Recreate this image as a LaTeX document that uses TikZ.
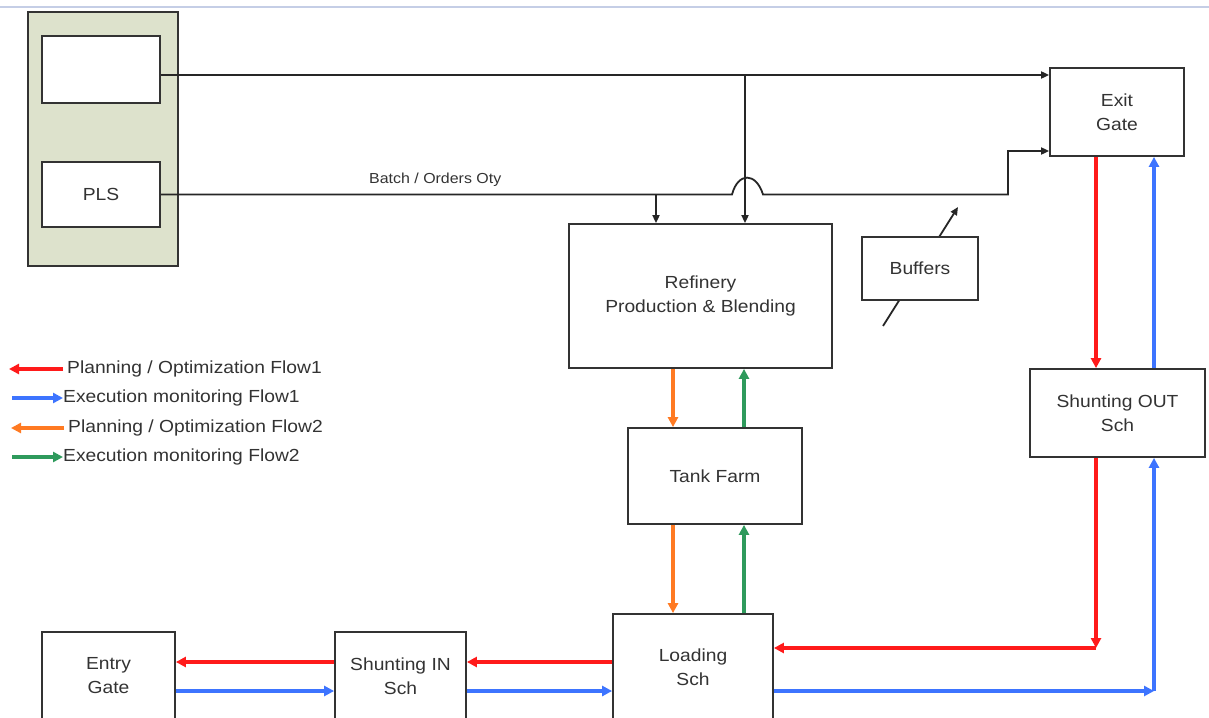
\documentclass[tikz,border=0pt]{standalone}
\usepackage{fontspec}
\setmainfont{Liberation Sans}[FakeStretch=1.1]
\usetikzlibrary{arrows.meta}
\definecolor{panelfill}{HTML}{DDE2CC}
\definecolor{boxline}{HTML}{333333}
\definecolor{txt}{HTML}{333333}
\definecolor{pred}{HTML}{FF1A1A}
\definecolor{pblue}{HTML}{3D74FF}
\definecolor{porange}{HTML}{FF7A22}
\definecolor{pgreen}{HTML}{2E9A5C}
\definecolor{topline}{HTML}{C5CEE6}
\begin{document}
\begin{tikzpicture}[x=1pt,y=-1pt,
  box/.style={draw=boxline, line width=1.8pt, fill=white, rectangle, inner sep=0pt,
    align=center, text=txt, font=\fontsize{17.5}{24}\selectfont},
  legtext/.style={inner sep=0pt, anchor=west, text=txt, font=\fontsize{17.5}{24}\selectfont},
  blk/.style={draw=black!85, line width=1.8pt},
  blkarr/.style={blk, -{Triangle[length=8pt,width=7pt]}},
  flow/.style={line width=3.4pt, -{Triangle[length=10pt,width=10pt]}},
  rf/.style={flow, draw=pred, fill=pred},
  bf/.style={flow, draw=pblue, fill=pblue},
  of/.style={flow, draw=porange, fill=porange},
  gf/.style={flow, draw=pgreen, fill=pgreen}]
\clip (0,0) rectangle (1209,717);
\fill[white] (0,0) rectangle (1209,717);
\draw[topline, line width=1.5pt] (0,7) -- (1209,7);

% left panel
\node[draw=boxline, line width=1.8pt, fill=panelfill, minimum width=150pt, minimum height=254pt, inner sep=0pt] (panel) at (103,139) {};
\node[box, minimum width=118pt, minimum height=67pt] (sys) at (101,69.5) {};
\node[box, minimum width=118pt, minimum height=65pt] (pls) at (101,194.5) {PLS};

% main boxes
\node[box, minimum width=134pt, minimum height=88pt] (exit) at (1117,112) {Exit\\Gate};
\node[box, minimum width=263pt, minimum height=144pt] (ref) at (700.5,296) {Refinery\\Production \& Blending};
\node[box, minimum width=174pt, minimum height=96pt] (tank) at (715,476) {Tank Farm};
\node[box, minimum width=175pt, minimum height=88pt] (shout) at (1117.5,413) {Shunting OUT\\Sch};
\node[box, minimum width=160pt, minimum height=106pt] (load) at (693,667) {Loading\\Sch};
\node[box, minimum width=131pt, minimum height=88pt] (shin) at (400.5,676) {Shunting IN\\Sch};
\node[box, minimum width=133pt, minimum height=88pt] (entry) at (108.5,676) {Entry\\Gate};

% buffers with crossing arrow
\coordinate (bufA) at (883,326);
\coordinate (bufB) at (958,207);
\draw[blkarr] (bufA) -- (bufB);
\node[box, minimum width=116pt, minimum height=63pt] (buf) at (920,268.5) {Buffers};

% black information lines
\draw[blkarr] (sys.east |- 0,75) -- (exit.west |- 0,75);
\coordinate (b2) at (745,75);
\draw[blkarr] (b2) -- (b2 |- ref.north);
\draw[blkarr] (pls.east) -- (732,194.5) .. controls (738,172) and (756,172) .. (763,194.5)
  -- (1008,194.5) -- (1008,151) -- (exit.west |- 0,151);
\coordinate (b1) at (656,194.5);
\draw[blkarr] (b1) -- (b1 |- ref.north);
\node[inner sep=0pt, text=txt, font=\fontsize{14.5}{17}\selectfont, anchor=base west] (batch) at (369,183) {Batch / Orders Oty};

% colored flows
\coordinate (ox) at (673,0);
\coordinate (gx) at (744,0);
\draw[of] (ref.south -| ox) -- (tank.north -| ox);
\draw[gf] (tank.north -| gx) -- (ref.south -| gx);
\draw[of] (tank.south -| ox) -- (load.north -| ox);
\draw[gf] (load.north -| gx) -- (tank.south -| gx);

\coordinate (rc) at (1096,648);
\coordinate (bc) at (1154,691);
\draw[rf] (exit.south -| rc) -- (shout.north -| rc);
\draw[bf] (shout.north -| bc) -- (exit.south -| bc);
\draw[rf] (shout.south -| rc) -- (rc);
\draw[rf] (rc) -- (rc -| load.east);
\draw[bf] (load.east |- bc) -- (bc);
\draw[bf] (bc) -- (bc |- shout.south);

\coordinate (ry) at (0,662);
\coordinate (by) at (0,691);
\draw[rf] (load.west |- ry) -- (shin.east |- ry);
\draw[rf] (shin.west |- ry) -- (entry.east |- ry);
\draw[bf] (entry.east |- by) -- (shin.west |- by);
\draw[bf] (shin.east |- by) -- (load.west |- by);

% legend
\node[legtext] (l1) at (67,369) {Planning / Optimization Flow1};
\node[legtext] (l2) at (63,398) {Execution monitoring Flow1};
\node[legtext] (l3) at (68,428) {Planning / Optimization Flow2};
\node[legtext] (l4) at (63,457) {Execution monitoring Flow2};
\coordinate (t1) at (9,369);
\coordinate (t2) at (12,398);
\coordinate (t3) at (11,428);
\coordinate (t4) at (12,457);
\draw[rf, shorten <=4pt] (l1.west) -- (t1);
\draw[bf] (t2) -- (l2.west);
\draw[of, shorten <=4pt] (l3.west) -- (t3);
\draw[gf] (t4) -- (l4.west);
\end{tikzpicture}
\end{document}
